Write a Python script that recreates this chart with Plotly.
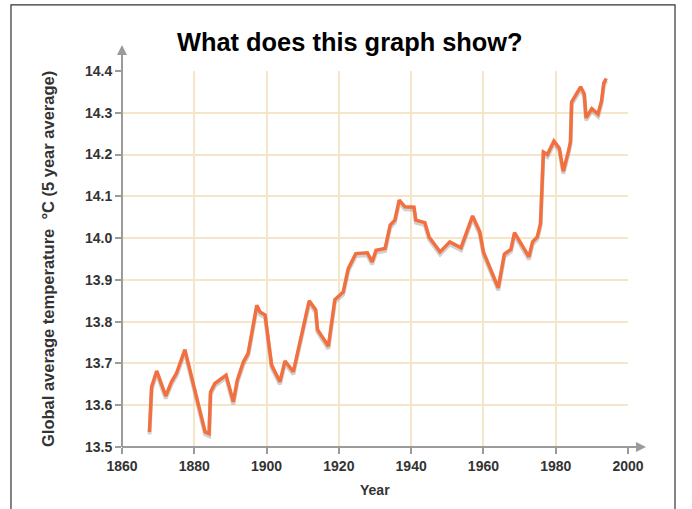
import plotly.graph_objects as go

years = [1867.6, 1868.2, 1869.6, 1872.1, 1873.7, 1875.1, 1877.4, 1883.0, 1884.1, 1884.5,
         1885.7, 1888.8, 1890.8, 1891.9, 1893.6, 1894.9, 1897.3, 1898.2, 1899.6, 1901.4,
         1903.7, 1905.1, 1907.4, 1911.8, 1913.6, 1914.1, 1917.1, 1917.8, 1918.9, 1921.2,
         1922.6, 1924.7, 1927.9, 1929.2, 1930.3, 1932.8, 1934.2, 1935.5, 1936.7, 1938.3,
         1940.8, 1941.3, 1943.8, 1945.0, 1948.0, 1950.7, 1953.8, 1957.0, 1959.0, 1960.0,
         1964.1, 1965.8, 1967.6, 1968.6, 1972.6, 1973.6, 1974.9, 1975.8, 1976.6, 1977.7,
         1979.5, 1981.0, 1982.1, 1983.5, 1984.1, 1984.4, 1986.9, 1987.9, 1988.4, 1990.0,
         1991.7, 1992.7, 1993.3, 1994.0]
temps = [13.536, 13.644, 13.682, 13.622, 13.656, 13.677, 13.733, 13.536, 13.532, 13.632,
         13.652, 13.672, 13.608, 13.660, 13.704, 13.724, 13.839, 13.823, 13.816, 13.696,
         13.656, 13.706, 13.680, 13.850, 13.828, 13.781, 13.741, 13.787, 13.853, 13.871,
         13.927, 13.963, 13.965, 13.943, 13.971, 13.975, 14.031, 14.043, 14.091, 14.075,
         14.074, 14.043, 14.037, 14.002, 13.967, 13.991, 13.977, 14.053, 14.015, 13.967,
         13.881, 13.962, 13.973, 14.013, 13.955, 13.991, 14.003, 14.035, 14.206, 14.200,
         14.232, 14.215, 14.160, 14.207, 14.231, 14.326, 14.362, 14.345, 14.288, 14.310,
         14.297, 14.329, 14.371, 14.382]

x_ticks = [1860, 1880, 1900, 1920, 1940, 1960, 1980, 2000]
y_ticks = [13.5, 13.6, 13.7, 13.8, 13.9, 14.0, 14.1, 14.2, 14.3, 14.4]

title_text = "What does this graph show?"
x_title = "Year"
y_title = "Global average temperature \u00a0°C (5 year average)"

FONT = "Arial, Liberation Sans, Helvetica, sans-serif"
AXIS_GRAY = "#9b9b9b"
GRID = "#f6e6c9"
LINE = "#f2703f"

fig = go.Figure()
# soft shadow under the line
fig.add_trace(go.Scatter(x=years, y=[t - 0.006 for t in temps], mode="lines",
                         line=dict(color="rgba(150,150,150,0.45)", width=4),
                         hoverinfo="skip", showlegend=False))
fig.add_trace(go.Scatter(x=years, y=temps, mode="lines",
                         line=dict(color=LINE, width=3.5), showlegend=False))

fig.update_layout(
    width=692, height=509,
    margin=dict(l=122, r=64, t=71, b=62),
    paper_bgcolor="white", plot_bgcolor="white",
    font=dict(family=FONT, color="#333"),
    xaxis=dict(range=[1860, 2000], tickvals=x_ticks, ticktext=[str(v) for v in x_ticks],
               showgrid=True, gridcolor=GRID, gridwidth=1.5, zeroline=False, showline=False,
               ticks="outside", ticklen=6, tickwidth=2, tickcolor=AXIS_GRAY,
               tickfont=dict(size=14, weight="bold", color="#333", family=FONT)),
    yaxis=dict(range=[13.5, 14.4], tickvals=y_ticks, ticktext=[f"{v:.1f}" for v in y_ticks],
               showgrid=True, gridcolor=GRID, gridwidth=1.5, zeroline=False, showline=False,
               ticks="outside", ticklen=6, tickwidth=2, tickcolor=AXIS_GRAY,
               tickfont=dict(size=14, weight="bold", color="#333", family=FONT)),
    showlegend=False,
)

shapes = [
    # outer frame
    dict(type="rect", xref="paper", yref="paper", x0=-0.2194, x1=1.0929, y0=-0.3, y1=1.1757,
         line=dict(color="#333", width=1.2), fillcolor="rgba(0,0,0,0)", layer="below"),
    # axis lines
    dict(type="line", xref="paper", yref="paper", x0=0, x1=1.025, y0=0, y1=0,
         line=dict(color=AXIS_GRAY, width=2)),
    dict(type="line", xref="paper", yref="paper", x0=0, x1=0, y0=0, y1=1.055,
         line=dict(color=AXIS_GRAY, width=2)),
]
fig.update_layout(shapes=shapes)

annotations = [
    dict(text=f"<b>{title_text}</b>", xref="paper", yref="paper", x=0.4506, y=1.0772,
         xanchor="center", yanchor="middle", showarrow=False,
         font=dict(size=25.4, color="black", family=FONT)),
    dict(text=f"<b>{x_title}</b>", xref="paper", yref="paper", x=0.5, y=-0.1152,
         xanchor="center", yanchor="middle", showarrow=False,
         font=dict(size=14, color="#333", family=FONT)),
    dict(text=f"<b>{y_title}</b>", xref="paper", yref="paper", x=-0.1462, y=0.5,
         xanchor="center", yanchor="middle", showarrow=False, textangle=-90,
         font=dict(size=16.5, color="#333", family=FONT)),
    # arrowheads
    dict(text="", xref="paper", yref="paper", x=1.0356, y=0, ax=-12, ay=0,
         showarrow=True, arrowhead=2, arrowsize=1, arrowwidth=2, arrowcolor=AXIS_GRAY),
    dict(text="", xref="paper", yref="paper", x=0, y=1.069, ax=0, ay=12,
         showarrow=True, arrowhead=2, arrowsize=1, arrowwidth=2, arrowcolor=AXIS_GRAY),
]
fig.update_layout(annotations=annotations)

fig.write_html("out.html", config={"displayModeBar": False},
               post_script="document.body.style.margin='0';")
